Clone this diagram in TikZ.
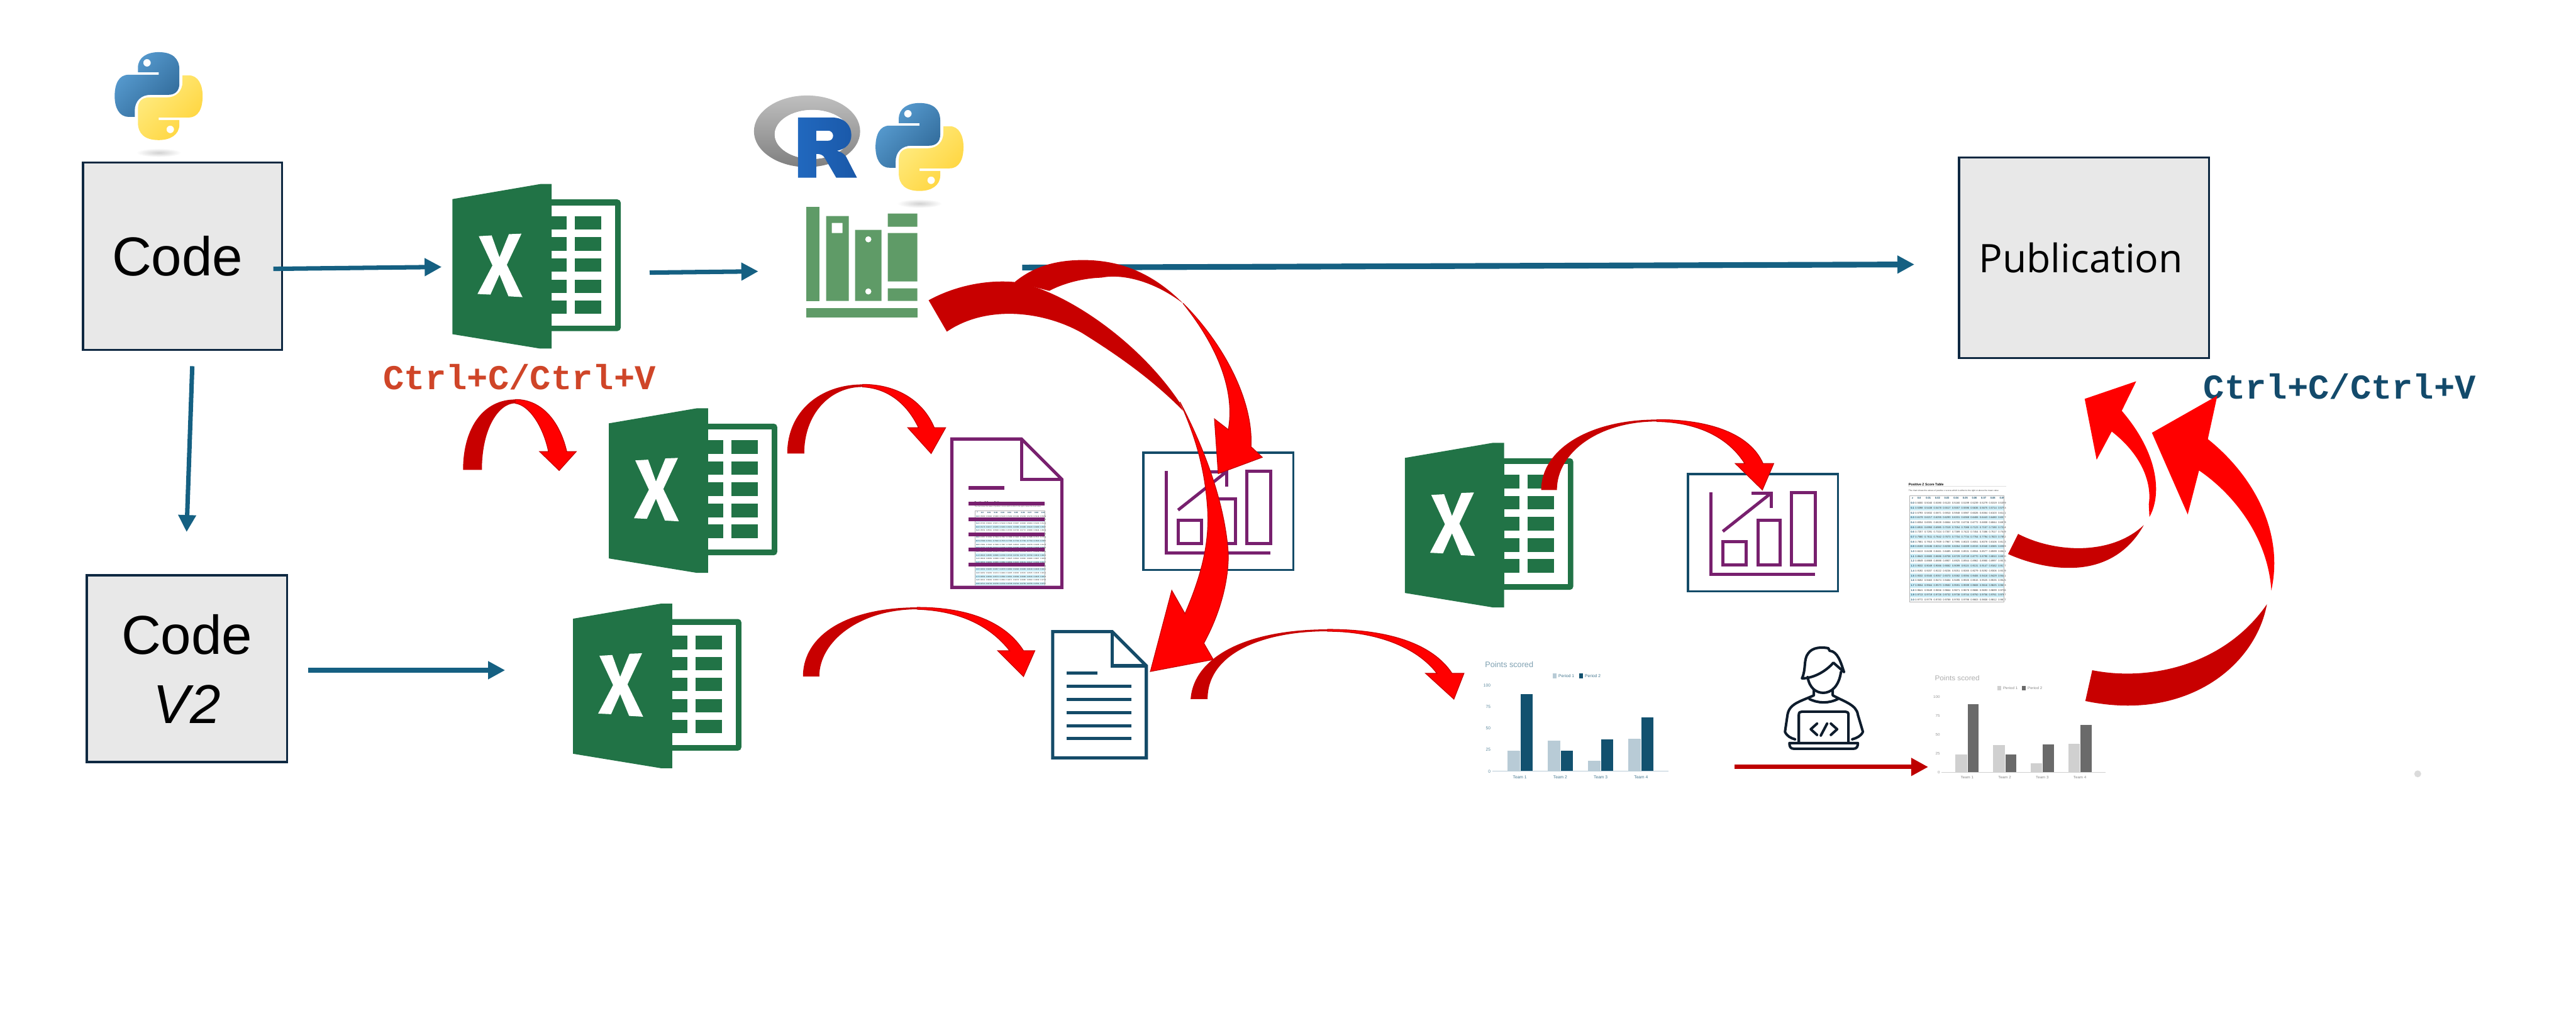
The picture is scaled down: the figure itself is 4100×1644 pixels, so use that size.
\documentclass[tikz,border=0pt]{standalone}
\usepackage{fontspec}
\setmainfont{Liberation Sans}
\setmonofont{Liberation Mono}
\newfontfamily\pubfont{Open Sans}
\usetikzlibrary{arrows.meta}

\definecolor{boxline}{HTML}{0E2841}
\definecolor{boxfill}{HTML}{E8E8E8}
\definecolor{flowblue}{HTML}{156082}
\definecolor{xlgreen}{HTML}{217346}
\definecolor{libgreen}{HTML}{5F9B67}
\definecolor{iconpurple}{HTML}{78206E}
\definecolor{iconnavy}{HTML}{144B68}
\definecolor{arrowdark}{HTML}{C80000}
\definecolor{ctrlred}{HTML}{CF4528}
\definecolor{ctrlblue}{HTML}{134A6B}
\definecolor{personink}{HTML}{0E1C2C}
\definecolor{tablerow}{HTML}{CDEEF8}
\definecolor{barpale}{HTML}{B8CBD6}
\definecolor{bardeep}{HTML}{12516F}
\definecolor{greypale}{HTML}{D0D0D0}
\definecolor{greydeep}{HTML}{6A6A6A}

\newcommand{\fs}[1]{\fontsize{#1}{#1}\selectfont}
\newcommand{\snake}{(0,-70) .. controls (22,-70) and (33,-60) .. (33,-42) -- (33,-20) .. controls (33,-8) and (26,-2) .. (15,-2) -- (-13,-2) .. controls (-28,-2) and (-38,8) .. (-38,23) -- (-38,33) -- (-48,33) .. controls (-63,33) and (-70,18) .. (-70,0) .. controls (-70,-20) and (-63,-34) .. (-48,-34) -- (0,-34) -- (0,-38) -- (-33,-38) -- (-33,-45) .. controls (-33,-62) and (-18,-70) .. (0,-70) -- cycle (-18.5,-53) circle[radius=6]}
\newcommand{\zrows}{0.0/{0.5000,0.5040,0.5080,0.5120,0.5160,0.5199,0.5239,0.5279,0.5319,0.5359},
0.1/{0.5398,0.5438,0.5478,0.5517,0.5557,0.5596,0.5636,0.5675,0.5714,0.5753},
0.2/{0.5793,0.5832,0.5871,0.5910,0.5948,0.5987,0.6026,0.6064,0.6103,0.6141},
0.3/{0.6179,0.6217,0.6255,0.6293,0.6331,0.6368,0.6406,0.6443,0.6480,0.6517},
0.4/{0.6554,0.6591,0.6628,0.6664,0.6700,0.6736,0.6772,0.6808,0.6844,0.6879},
0.5/{0.6915,0.6950,0.6985,0.7019,0.7054,0.7088,0.7123,0.7157,0.7190,0.7224},
0.6/{0.7257,0.7291,0.7324,0.7357,0.7389,0.7422,0.7454,0.7486,0.7517,0.7549},
0.7/{0.7580,0.7611,0.7642,0.7673,0.7704,0.7734,0.7764,0.7794,0.7823,0.7852},
0.8/{0.7881,0.7910,0.7939,0.7967,0.7995,0.8023,0.8051,0.8078,0.8106,0.8133},
0.9/{0.8159,0.8186,0.8212,0.8238,0.8264,0.8289,0.8315,0.8340,0.8365,0.8389},
1.0/{0.8413,0.8438,0.8461,0.8485,0.8508,0.8531,0.8554,0.8577,0.8599,0.8621},
1.1/{0.8643,0.8665,0.8686,0.8708,0.8729,0.8749,0.8770,0.8790,0.8810,0.8830},
1.2/{0.8849,0.8869,0.8888,0.8907,0.8925,0.8944,0.8962,0.8980,0.8997,0.9015},
1.3/{0.9032,0.9049,0.9066,0.9082,0.9099,0.9115,0.9131,0.9147,0.9162,0.9177},
1.4/{0.9192,0.9207,0.9222,0.9236,0.9251,0.9265,0.9279,0.9292,0.9306,0.9319},
1.5/{0.9332,0.9345,0.9357,0.9370,0.9382,0.9394,0.9406,0.9418,0.9429,0.9441},
1.6/{0.9452,0.9463,0.9474,0.9484,0.9495,0.9505,0.9515,0.9525,0.9535,0.9545},
1.7/{0.9554,0.9564,0.9573,0.9582,0.9591,0.9599,0.9608,0.9616,0.9625,0.9633},
1.8/{0.9641,0.9649,0.9656,0.9664,0.9671,0.9678,0.9686,0.9693,0.9699,0.9706},
1.9/{0.9713,0.9719,0.9726,0.9732,0.9738,0.9744,0.9750,0.9756,0.9761,0.9767},
2.0/{0.9772,0.9778,0.9783,0.9788,0.9793,0.9798,0.9803,0.9808,0.9812,0.9817}}

\tikzset{
pics/pylogo/.style={code={
  \shade[inner color=black!18, outer color=white] (0,90) ellipse[x radius=36, y radius=7];
  \shade[even odd rule, left color={rgb,255:red,90;green,159;blue,212}, right color={rgb,255:red,48;green,105;blue,152}, shading angle=45] \snake;
  \begin{scope}[rotate=180]
  \shade[even odd rule, left color={rgb,255:red,255;green,236;blue,130}, right color={rgb,255:red,255;green,212;blue,59}, shading angle=45] \snake;
  \end{scope}
}},
pics/xlicon/.style={code={
  \fill[xlgreen, rounded corners=1.5pt] (140,24.5) rectangle (268,234);
  \fill[white] (158,34) rectangle (259,225);
  \foreach \rowy in {51,84.5,118,152,185} {
    \fill[xlgreen] (158,\rowy) rectangle ++(24,21.5);
    \fill[xlgreen] (195,\rowy) rectangle ++(42,21.5);
  }
  \fill[xlgreen] (0,24) -- (140,0) -- (158,0) -- (158,262) -- (140,262) -- (0,239) -- cycle;
  \fill[white] (42,83) -- (62.5,81.8) -- (75,116.6) -- (90,79.8) -- (110,79) -- (86.7,128.5) -- (111.6,180) -- (89.3,178.7) -- (75,144) -- (60.6,176) -- (40,175) -- (63.8,129.6) -- cycle;
}},
pics/charticon/.style={code={
  \draw[iconnavy, line width=1pt, fill=white] (1.5,1.5) rectangle (240.5,188.5);
  \begin{scope}[draw=iconpurple, line width=1.4pt]
  \draw (38,31) -- (38,161) -- (204,161);
  \draw (57,109) rectangle (94,146);
  \draw (113,75) rectangle (148,146);
  \draw (166,31) rectangle (204,146);
  \draw (57,93) -- (134,32);
  \draw (103,32) -- (134,32) -- (134,56);
  \end{scope}
}},
pics/docicon/.style={code={
  \draw[#1, line width=1.45pt] (2.5,2.5) -- (97,2.5) -- (151.5,57) -- (151.5,203.5) -- (2.5,203.5) -- cycle;
  \draw[#1, line width=1.45pt] (97,2.5) -- (97,57) -- (151.5,57);
  \fill[#1] (25,66.5) rectangle ++(49,5);
  \foreach \liney in {87.5,108.5,129,150,170.5} \fill[#1] (25,\liney) rectangle ++(103,5);
}},
pics/ztable/.style={code={
  \node[anchor=west, inner sep=0, font=\fs{1.5}\bfseries, transform shape] (ztitle) at (-2,-18) {Positive Z Score Table};
  \draw[black!12, line width=.1pt] (-2,-15) -- (154,-15);
  \node[anchor=west, inner sep=0, font=\fs{.93}, text=black!75, transform shape] (zsub) at (-2,-8) {The chart shows the values of positive z scores which is either to the right or above the mean value};
  \foreach \zl/\zv [count=\r from 0] in \zrows {
    \pgfmathparse{int(mod(\r,2))}
    \ifnum\pgfmathresult=1 \fill[tablerow] (0,{8.2+7.7*\r}) rectangle (151,{15.9+7.7*\r}); \fi
    \node[inner sep=0, font=\fs{1.15}\bfseries, text=iconnavy, transform shape] (zl\r) at (5,{12+7.7*\r}) {\zl};
    \foreach \zc [count=\c from 0] in \zv
      \node[inner sep=0, font=\fs{1.15}, text=black!80, transform shape] (zc\r-\c) at ({15.5+14.67*\c},{12+7.7*\r}) {\zc};
  }
  \node[inner sep=0, font=\fs{1.15}\bfseries, text=iconnavy, transform shape] (zhead) at (5,4) {z};
  \foreach \zh [count=\c from 0] in {0.0,0.01,0.02,0.03,0.04,0.05,0.06,0.07,0.08,0.09}
    \node[inner sep=0, font=\fs{1.15}\bfseries, text=iconnavy, transform shape] (zh\c) at ({15.5+14.67*\c},4) {\zh};
  \draw[black!30, line width=.25pt] (0,0) rectangle (151,169);
}},
pics/barchart/.style 2 args={code={
  \node[anchor=west, inner sep=0, font=\fs{3.6}, text=#2!55, transform shape] (bctitle) at (-12,-170) {Points scored};
  \fill[#1] (96,-156) rectangle ++(6,8);
  \node[inner sep=0, font=\fs{1.9}, text=#2!80, transform shape] (bcone) at (118,-152) {Period 1};
  \fill[#2] (138,-156) rectangle ++(6,8);
  \node[inner sep=0, font=\fs{1.9}, text=#2!80, transform shape] (bctwo) at (160,-152) {Period 2};
  \foreach \v in {100,75,50,25,0}
    \node[anchor=east, inner sep=0, font=\fs{1.9}, text=#2!70, transform shape] (bcy\v) at (-2,{-1.37*\v}) {\v};
  \foreach \pa/\pb [count=\t] in {24/90,36/24,12/37,38/63} {
    \fill[#1] ({24+64.3*(\t-1)},0) rectangle ++(20,{-1.37*\pa});
    \fill[#2] ({45+64.3*(\t-1)},0) rectangle ++(19,{-1.37*\pb});
    \node[inner sep=0, font=\fs{1.9}, text=#2!80, transform shape] (bct\t) at ({44+64.3*(\t-1)},9) {Team \t};
  }
  \draw[#1, line width=.35pt] (0,0) -- (281,0);
}},
pics/coder/.style={code={
  \begin{scope}[personink, line width=1.15pt, line cap=round, line join=round]
  \draw (38,60) .. controls (45,45) and (40,30) .. (48,20) .. controls (55,10) and (70,10) .. (80,12) -- (82,16) .. controls (95,17) and (100,35) .. (105,50) -- (88,35) .. controls (75,50) and (55,60) .. (38,60) -- cycle;
  \draw (47,58) .. controls (50,75) and (60,83) .. (72,83) .. controls (85,83) and (97,72) .. (100,50);
  \draw (57,78) -- (57,87) .. controls (35,97) and (18,100) .. (15,118) -- (11,145) .. controls (14,152) and (20,155) .. (27,157);
  \draw (87,78) -- (87,87) .. controls (105,97) and (125,102) .. (127,118) -- (135,145) .. controls (132,152) and (125,155) .. (118,157);
  \draw (50,93) .. controls (65,100) and (80,100) .. (95,93);
  \draw (33,163) -- (33,118) .. controls (33,114) and (35,113) .. (38,113) -- (107,113) .. controls (110,113) and (112,114) .. (112,118) -- (112,163);
  \draw (18,163) -- (127,163) .. controls (127,169) and (125,172) .. (120,172) -- (25,172) .. controls (20,172) and (18,169) .. (18,163) -- cycle;
  \draw (62,132) -- (52,141) -- (62,150);
  \draw (78,132) -- (68,151);
  \draw (84,132) -- (94,141) -- (84,150);
  \end{scope}
}}
}

\begin{document}
\begin{tikzpicture}[x=.01cm, y=-.01cm, >={Triangle[length=7.7pt,width=7.7pt]},
  box/.style={draw=boxline, line width=1pt, fill=boxfill, font=\fs{24.8}, inner sep=0},
  flowline/.style={draw=flowblue, line width=2pt},
  tailpart/.style={fill=arrowdark},
  headpart/.style={fill=red, draw=arrowdark, line width=.35pt},
  ctrl/.style={font=\ttfamily\bfseries\fs{15.8}, inner sep=0}]
\useasboundingbox (0,0) rectangle (4100,1644);

\node[box, minimum width=3.17cm, minimum height=2.98cm] (code) at (290.5,408) {Code\hspace*{.16cm}};
\node[box, minimum width=3.19cm, minimum height=2.97cm, align=center, font=\fs{24.8}\setlength{\baselineskip}{1.1cm}] (codetwo) at (297.5,1064.5) {Code\\\textit{V2}};
\node[box, minimum width=3.98cm, minimum height=3.19cm, font=\pubfont\fs{17.8}] (pub) at (3317,410.5) {Publication\hspace*{.1cm}};

\pic (pyone) at (252.5,153) {pylogo};
\pic (pytwo) at (1463.5,234) {pylogo};

\shade[even odd rule, top color=black!25, bottom color=black!50] (1284.5,209) ellipse[x radius=84.5, y radius=57] (1293,214) ellipse[x radius=60, y radius=39];
\fill[white] (1293,214) ellipse[x radius=60, y radius=39];
\shade[even odd rule, left color={rgb,255:red,33;green,104;blue,190}, right color={rgb,255:red,26;green,88;blue,168}] (1270,187) -- (1323,187) .. controls (1347,187) and (1355,202) .. (1355,215) .. controls (1355,228) and (1347,237) .. (1332,240) .. controls (1342,243) and (1345,247) .. (1347,250) -- (1364,283) -- (1331,283) -- (1313,252) .. controls (1310,246) and (1305,245) .. (1299,245) -- (1299,283) -- (1270,283) -- cycle (1299,208) -- (1318,208) .. controls (1323,208) and (1326,212) .. (1326,216) .. controls (1326,221) and (1323,224) .. (1318,224) -- (1299,224) -- cycle;

\fill[libgreen] (1283,329) rectangle (1304,479);
\fill[libgreen, even odd rule] (1315,344) rectangle (1351,479) (1324,355) rectangle (1341,371);
\fill[libgreen, even odd rule] (1361,366) rectangle (1403,479) (1382,381) circle[radius=5] (1382,464) circle[radius=5];
\fill[libgreen] (1413,340) rectangle (1460,361) (1413,371) rectangle (1460,448) (1413,459) rectangle (1460,479);
\fill[libgreen] (1283,490) rectangle (1460,505);

\pic (xlone) at (720,293) {xlicon};
\pic (xltwo) at (969,650) {xlicon};
\pic (xlthree) at (912,961) {xlicon};
\pic (xlfour) at (2236,705) {xlicon};

\begin{scope}
\clip (1500,690) rectangle (1700,931);
\pic[scale=.735, transform shape] (ztb) at (1552,813) {ztable};
\end{scope}
\pic[scale=1.175] (docone) at (1512,696) {docicon=iconpurple};
\pic (doctwo) at (1673,1003) {docicon=iconnavy};
\pic (chartone) at (1818,719) {charticon};
\pic (charttwo) at (2685,753) {charticon};
\pic (zta) at (3039,789) {ztable};
\pic (barsone) at (2375,1228) {barchart={barpale}{bardeep}};
\pic[xscale=.93, yscale=.883, transform shape] (barstwo) at (3090,1230) {barchart={greypale}{greydeep}};
\pic (person) at (2830,1020) {coder};
\fill[black!14] (3848,1232) circle[radius=5.5];

\coordinate (codeout) at (435,428); \coordinate (xlin) at (703,425);
\coordinate (xlout) at (1034,434); \coordinate (libin) at (1207,432);
\coordinate (libout) at (1627,426); \coordinate (pubin) at (3047,421);
\coordinate (codedown) at (306,583); \coordinate (codetwoin) at (297,847);
\coordinate (codetwoout) at (490,1067); \coordinate (xlthreein) at (804,1067);
\coordinate (barsout) at (2761,1221); \coordinate (greyin) at (3069,1221);
\draw[->, flowline] (codeout) -- (xlin);
\draw[->, flowline] (xlout) -- (libin);
\draw[->, flowline] (codedown) -- (codetwoin);
\draw[->, flowline] (codetwoout) -- (xlthreein);
\draw[->, flowline, line width=2.6pt] (libout) -- (pubin);
\draw[->, draw=arrowdark!95!black, line width=2pt] (barsout) -- (greyin);

\node[ctrl, text=ctrlred] (ctrlone) at (827,600) {Ctrl+C/Ctrl+V};
\node[ctrl, text=ctrlblue] (ctrltwo) at (3724,615) {Ctrl+C/Ctrl+V};

\fill[tailpart] (737,748) .. controls (737,680) and (770,636) .. (820,636) -- (820,642) .. controls (795,642) and (767,680) .. (767,748) -- cycle;
\path[headpart] (820,636) .. controls (865,636) and (892,675) .. (902,719) -- (917,719) -- (890,749) -- (859,719) -- (873,719) .. controls (865,680) and (843,645) .. (820,642) -- cycle;

\fill[tailpart] (1253,722) .. controls (1253,655) and (1305,612) .. (1373,612) -- (1373,616) .. controls (1320,616) and (1280,660) .. (1280,722) -- cycle;
\path[headpart] (1373,612) .. controls (1430,612) and (1470,640) .. (1487,681) -- (1505,681) -- (1482,722) -- (1445,681) -- (1462,681) .. controls (1445,645) and (1415,618) .. (1373,616) -- cycle;

\fill[tailpart] (1278,1077) .. controls (1278,1010) and (1350,967) .. (1460,967) -- (1460,970) .. controls (1370,970) and (1304,1020) .. (1304,1077) -- cycle;
\path[headpart] (1460,967) .. controls (1540,967) and (1600,990) .. (1629,1036) -- (1647,1036) -- (1629,1077) -- (1588,1036) -- (1607,1036) .. controls (1575,995) and (1525,972) .. (1460,970) -- cycle;

\fill[tailpart] (1615,449) .. controls (1650,420) and (1690,414) .. (1724,414) .. controls (1790,414) and (1840,440) .. (1883,483) .. controls (1840,450) and (1790,435) .. (1753,442) .. controls (1725,443) and (1695,450) .. (1670,463) -- cycle;
\path[headpart] (1883,483) .. controls (1950,550) and (1995,640) .. (1991,711) -- (2009,728) -- (1939,754) -- (1933,667) -- (1955,684) .. controls (1965,630) and (1945,560) .. (1883,483) -- cycle;

\fill[tailpart] (1478,478) .. controls (1520,455) and (1570,445) .. (1615,449) .. controls (1690,460) and (1810,540) .. (1877,640) -- (1883,654) .. controls (1830,600) and (1770,560) .. (1722,530) .. controls (1660,495) and (1570,485) .. (1507,528) -- cycle;
\path[headpart] (1878,640) .. controls (1915,710) and (1950,800) .. (1955,883) .. controls (1955,930) and (1940,980) .. (1916,1024) -- (1931,1050) -- (1831,1069) -- (1865,940) -- (1886,977) .. controls (1915,910) and (1925,860) .. (1922,810) .. controls (1918,750) and (1905,700) .. (1878,640) -- cycle;

\fill[tailpart] (1895,1113) .. controls (1900,1045) and (1985,1002) .. (2113,1002) -- (2113,1005) .. controls (2010,1005) and (1922,1040) .. (1922,1113) -- cycle;
\path[headpart] (2113,1002) .. controls (2210,1002) and (2280,1025) .. (2311,1072) -- (2330,1072) -- (2314,1113) -- (2269,1072) -- (2287,1072) .. controls (2255,1030) and (2190,1005) .. (2113,1005) -- cycle;

\fill[tailpart] (2453,780) .. controls (2453,715) and (2530,668) .. (2637,668) -- (2637,671) .. controls (2545,671) and (2478,720) .. (2478,780) -- cycle;
\path[headpart] (2637,668) .. controls (2720,668) and (2785,690) .. (2806,738) -- (2823,738) -- (2805,780) -- (2762,738) -- (2777,738) .. controls (2750,695) and (2700,672) .. (2637,671) -- cycle;

\fill[tailpart] (3212,850) .. controls (3270,880) and (3360,885) .. (3412,836) .. controls (3385,885) and (3340,905) .. (3291,904) .. controls (3260,904) and (3225,895) .. (3196,882) -- cycle;
\fill[red] (3421,823) .. controls (3440,790) and (3438,725) .. (3377,654) -- (3400,607) -- (3318,635) -- (3337,732) -- (3361,687) .. controls (3410,725) and (3425,770) .. (3420,803) -- cycle;

\fill[tailpart] (3330,1067) .. controls (3420,1085) and (3540,1060) .. (3608,962) .. controls (3590,1060) and (3480,1150) .. (3319,1116) -- cycle;
\fill[red] (3615,940) .. controls (3635,850) and (3590,760) .. (3514,699) -- (3529,630) -- (3425,689) -- (3482,819) -- (3500,749) .. controls (3560,790) and (3610,860) .. (3615,940) -- cycle;
\end{tikzpicture}
\end{document}
